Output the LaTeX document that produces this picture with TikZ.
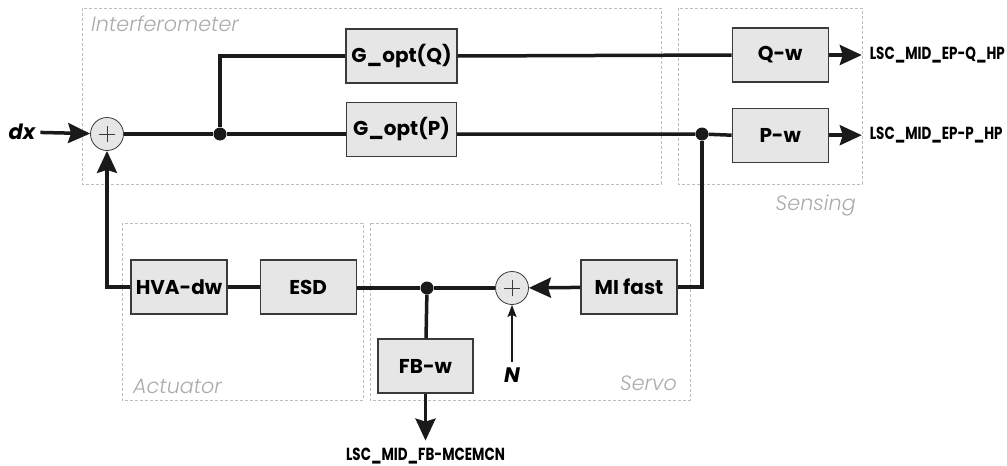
\documentclass[tikz,border=0pt]{standalone}
\usepackage{fontspec}
\setmainfont{Poppins}
\newfontfamily\grpfont{Poppins}[UprightFont=* Light, ItalicFont=* Light Italic]
\newfontfamily\outfont{Poppins}[FakeStretch=0.77]
\usetikzlibrary{positioning,arrows.meta}
\definecolor{wire}{HTML}{1A1A1A}
\definecolor{boxline}{HTML}{3A3A3A}
\definecolor{boxfill}{HTML}{E6E6E6}
\definecolor{framegrey}{HTML}{BDBDBD}
\definecolor{lblgrey}{HTML}{ABABAB}
\tikzset{
  blk/.style={rectangle, draw=boxline, fill=boxfill, line width=1.2pt,
              minimum width=96pt, minimum height=54pt, inner sep=0pt,
              font=\fontsize{20}{22}\selectfont\bfseries},
  sumc/.style={circle, draw=boxline, fill=boxfill, line width=0.8pt,
               minimum size=33pt, inner sep=0pt,
               path picture={\draw[line width=0.8pt, draw=boxline]
                 ([xshift=-8pt]path picture bounding box.center) -- ([xshift=8pt]path picture bounding box.center)
                 ([yshift=-8pt]path picture bounding box.center) -- ([yshift=8pt]path picture bounding box.center);}},
  dot/.style={circle, fill=wire, minimum size=13pt, inner sep=0pt},
  ln/.style={draw=wire, line width=3.5pt},
  ar/.style={ln, -{Stealth[length=22pt,width=20pt,inset=3pt]}},
  arn/.style={draw=wire, line width=1.4pt, -{Stealth[length=12pt,width=9pt,inset=2pt]}},
  grp/.style={draw=framegrey, line width=0.9pt, dash pattern=on 3pt off 2pt},
  glbl/.style={font=\grpfont\itshape\fontsize{20.7}{22}\selectfont, text=lblgrey, inner sep=0pt},
  outl/.style={font=\outfont\bfseries\fontsize{17.5}{19}\selectfont, inner sep=0pt, outer sep=8pt},
  sig/.style={font=\bfseries\itshape\fontsize{21}{23}\selectfont, inner sep=0pt, outer sep=5pt},
}
\begin{document}
\begin{tikzpicture}[x=1pt, y=1pt]
  \useasboundingbox (0,0) rectangle (1007,-466);

  % group frames
  \draw[grp] (82,-8) rectangle (661,-184);
  \draw[grp] (678,-8) rectangle (862,-184);
  \draw[grp] (122,-223) rectangle (363,-400);
  \draw[grp] (370,-223) rectangle (690,-400);
  \node[glbl, anchor=base west] (lint) at (91,-31) {Interferometer};
  \node[glbl, anchor=base east] (lsen) at (856,-210) {Sensing};
  \node[glbl, anchor=base west] (lact) at (133,-393) {Actuator};
  \node[glbl, anchor=base east] (lsrv) at (677,-390) {Servo};

  % interferometer + sensing
  \node[sumc] (s1) at (107,-134) {};
  \node[sig] (dx) at (22,-132) {dx};
  \node[dot] (j1) at (220,-134) {};
  \node[blk, minimum width=111pt] (gq) at (401.5,-56) {G\_opt(Q)};
  \node[blk, minimum width=110pt, below=18pt of gq] (gp) {G\_opt(P)};
  \node[blk, right=274pt of gq, yshift=1pt] (qw) {Q-w};
  \node[blk, below=25pt of qw] (pw) {P-w};
  \node[dot] (j2) at (702,-134) {};
  \node[outl, right=33pt of qw] (qo) {LSC\_MID\_EP-Q\_HP};
  \node[outl, right=33pt of pw] (po) {LSC\_MID\_EP-P\_HP};

  % actuator + servo
  \node[blk] (hva) at (179,-287) {HVA-dw};
  \node[blk, right=32pt of hva] (esd) {ESD};
  \node[dot] (j3) at (427,-288) {};
  \node[sumc] (s2) at (512,-288) {};
  \node[blk] (mi) at (629,-287) {MI fast};
  \node[blk, minimum width=95pt] (fb) at (425.5,-366) {FB-w};
  \node[outl, below=47pt of fb, outer sep=7pt] (fbo) {LSC\_MID\_FB-MCEMCN};
  \node[sig, outer sep=6pt] (n) at (512,-375) {N};

  % forward path
  \draw[ar] (dx) -- (s1);
  \draw[ln] (s1) -- (j1) -- (j1 -| gp.west);
  \draw[ln] (j1) |- (gq.west);
  \draw[ln] (gq.east) -- (qw.west);
  \draw[ln] (gp.east |- j2) -- (j2) -- (pw.west);
  \draw[ar] (qw) -- (qo);
  \draw[ar] (pw) -- (po);

  % feedback path
  \draw[ln] (j2) |- (mi.east);
  \draw[ar] (mi) -- (s2);
  \draw[arn] (n) -- (s2);
  \draw[ln] (s2) -- (j3) -- (esd.east |- j3);
  \draw[ln] (esd) -- (hva);
  \draw[ln] (j3) -- (fb);
  \draw[ar] (fb) -- (fbo);
  \draw[ar] (hva.west) -| (s1.south);
\end{tikzpicture}
\end{document}
